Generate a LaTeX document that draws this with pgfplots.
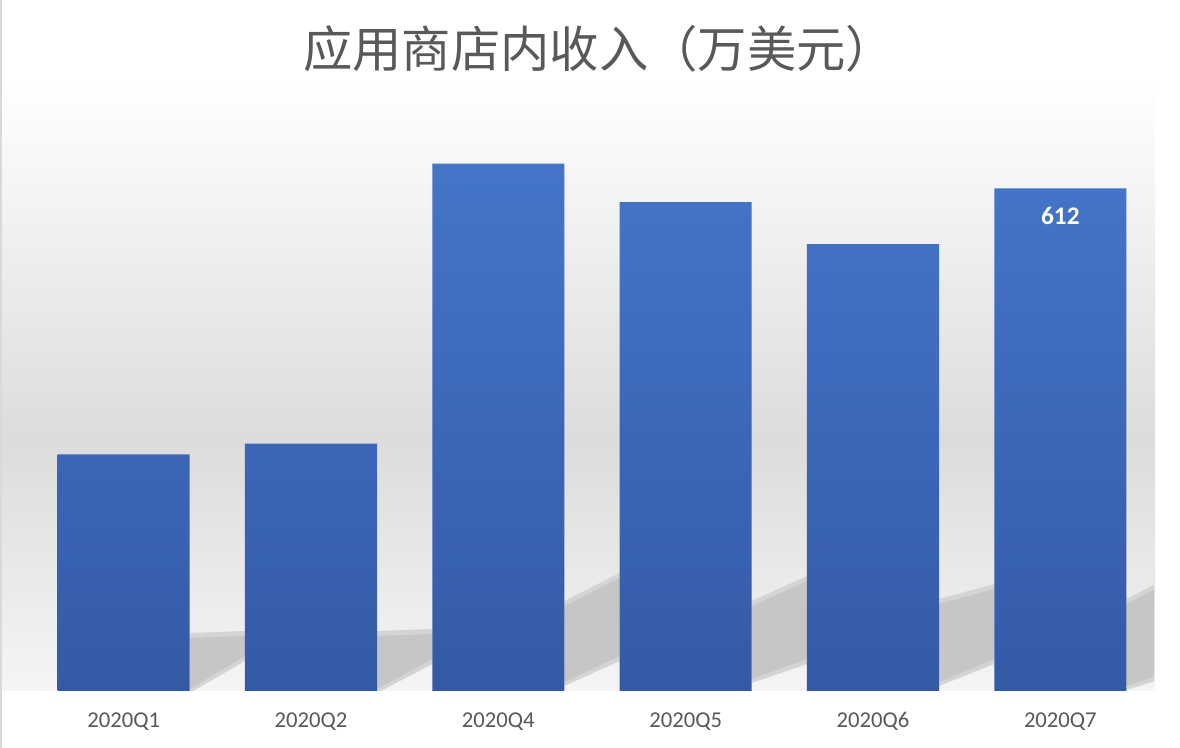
\documentclass[border=0pt]{standalone}
\usepackage{fontspec}
\setmainfont{Carlito}
\newfontfamily\cjk{Noto Sans CJK SC}
\usepackage{pgfplots}
\pgfplotsset{compat=1.18}

\definecolor{barTop}{HTML}{4575C9}
\definecolor{barBot}{HTML}{345AA6}
\definecolor{txtGray}{HTML}{595959}
\definecolor{bgGray}{HTML}{DCDCDC}
\definecolor{shadowGray}{HTML}{C6C6C6}
\definecolor{shadowSoft}{HTML}{D4D4D4}

% floor shadow right of bar #1, #2 axis units wide,
% top left/right #3/#4 and bottom left/right #5/#6 in pixels above the baseline
\newcommand\barshadow[6]{%
    \fill[shadowSoft]
        (axis cs:#1+0.3525,{1.2174*(#5-3)}) --
        (axis cs:#1+0.3525,{1.2174*(#3+4)}) --
        (axis cs:#1+0.3525+#2,{1.2174*(#4+4)}) --
        (axis cs:#1+0.3525+#2,{1.2174*(#6-4)}) -- cycle;
    \fill[shadowGray]
        (axis cs:#1+0.3525,{1.2174*(#5+1)}) --
        (axis cs:#1+0.3525,{1.2174*(#3-1)}) --
        (axis cs:#1+0.3525+#2,{1.2174*(#4-1)}) --
        (axis cs:#1+0.3525+#2,{1.2174*(#6+1)}) -- cycle;}

\begin{document}
\begin{tikzpicture}[x=0.75pt,y=0.75pt]
% page and background (pixel units, origin bottom left)
\fill[white] (0,0) rectangle (1180,748);
\fill[top color=white, bottom color=bgGray] (2,308) rectangle (1155,668);
\fill[top color=bgGray, bottom color=white!96!black] (2,57) rectangle (1155,308.5);
\fill[white] (0,0) rectangle (1180,57);
\fill[black!15] (0,0) rectangle (2,748);

\node[font=\cjk\fontsize{37}{44}\selectfont, text=txtGray] at (599,699) {应用商店内收入（万美元）};

\begin{axis}[
    at={(22.5pt,42.75pt)}, anchor=south west,
    scale only axis,
    width=843pt, height=431.25pt,
    xmin=-0.5, xmax=5.5,
    ymin=0, ymax=700,
    axis line style={draw=none},
    xtick=data,
    xticklabels={2020Q1,2020Q2,2020Q4,2020Q5,2020Q6,2020Q7},
    ytick=\empty,
    major tick length=0pt,
    xticklabel style={font=\fontsize{17}{20}\selectfont, text=txtGray, anchor=base, yshift=-27.4pt},
    clip=true,
]
\barshadow{0}{0.295}{54}{56}{1}{34}
\barshadow{1}{0.295}{56}{58}{1}{31}
\barshadow{2}{0.295}{86}{114}{8}{34}
\barshadow{3}{0.295}{86}{111}{11}{31}
\barshadow{4}{0.295}{88}{103}{8}{31}
\barshadow{5}{0.155}{88}{103}{4}{14}
\addplot[ybar, bar width=0.705, draw=none, top color=barTop, bottom color=barBot]
    coordinates {(0,288) (1,301) (2,642) (3,595) (4,544) (5,612)};
\node[font=\bfseries\fontsize{19}{22}\selectfont, text=white, anchor=center, yshift=-21pt]
    at (axis cs:5,612) {612};
\end{axis}
\pgfresetboundingbox
\path[use as bounding box] (0,0) rectangle (1180,748);
\end{tikzpicture}
\end{document}
